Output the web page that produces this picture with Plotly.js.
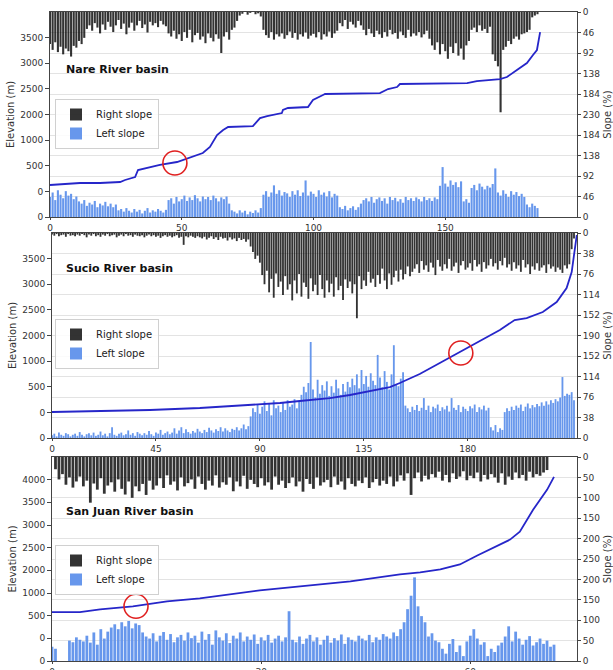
<!DOCTYPE html>
<html>
<head>
<meta charset="utf-8">
<script src="https://cdn.plot.ly/plotly-3.0.1.min.js"></script>
<style>html,body{margin:0;padding:0;background:#fff;}#chart{width:613px;height:670px;}</style>
</head>
<body>
<div id="chart"></div>
<script>
// ---------------- DATA ----------------
// Nare River basin (x step 1)
const nareRightSlope = [
72,85,68,90,78,95,82,88,100,76,
80,65,72,58,38,30,42,25,35,48,
28,40,22,33,45,30,18,38,26,50,
35,24,42,30,20,36,28,46,22,30,
25,34,20,28,32,48,55,42,60,50,
65,45,58,40,68,52,47,62,55,70,
48,58,66,50,60,92,55,45,62,40,
35,20,8,4,0,6,2,0,5,3,
10,40,52,58,45,62,50,55,48,60,
52,44,58,47,62,50,55,46,60,53,
49,57,45,62,50,55,44,58,48,42,
25,32,18,38,22,28,35,20,30,40,
52,38,48,56,42,50,58,45,55,40,
50,47,60,44,52,58,40,55,48,53,
45,57,50,42,60,75,85,68,95,72,
88,105,78,92,70,98,82,107,75,65,
40,35,45,30,42,38,47,33,95,110,
122,225,85,78,65,72,60,55,62,50,
48,45,40,12,8,5];
const nareLeftSlope = [
45,55,38,60,50,42,58,48,52,40,
46,35,30,38,25,32,28,36,22,30,
26,34,24,30,22,28,15,18,12,20,
14,10,18,12,16,8,14,20,10,15,
12,18,14,10,16,38,42,30,45,35,
40,48,36,44,38,49,42,35,46,40,
45,38,48,42,35,44,40,46,30,15,
12,8,15,10,14,6,12,9,15,10,
20,50,58,45,55,71,52,60,48,56,
53,45,58,50,60,47,55,82,48,57,
52,45,60,50,55,46,58,44,52,48,
22,18,25,15,20,24,16,22,30,38,
42,35,45,32,40,44,36,42,30,45,
38,43,35,40,32,45,38,42,36,44,
40,35,45,38,42,36,44,40,70,112,
75,68,82,72,78,67,80,35,40,32,
65,72,60,75,68,62,70,66,74,109,
55,48,60,52,45,58,50,56,47,52,
45,28,22,30,25,20];
const nareDist = [0,11.4,19,26.6,28.5,32.3,33.4,34.9,41.7,48.2,57,58,60.7,63.4,65.7,67.6,77,79.7,82.4,88,88.4,90.3,97.9,99.8,103.6,104.4,125.2,128.3,131.7,132.8,158.3,162,170.8,173.4,177.2,181,183.3,184.8,186];
const nareElev = [124,163,163,183,222,280,417,437,515,573,729,749,866,1100,1197,1256,1275,1431,1470,1529,1588,1627,1646,1783,1880,1900,1919,1997,2036,2095,2114,2153,2192,2231,2368,2505,2661,2758,3109];

// Sucio River basin (x step 1)
const sucioRightSlope = [
3,5,2,6,4,3,7,2,5,4,
6,3,5,2,4,8,3,5,2,6,
4,7,3,5,2,6,4,3,8,5,
3,6,2,5,4,7,3,5,6,4,
8,5,3,6,4,7,5,9,6,4,
7,5,8,6,4,9,7,22,6,8,
5,7,9,6,8,10,7,12,9,6,
11,8,13,7,10,9,14,8,12,10,
15,9,13,11,16,12,25,35,48,42,
55,78,95,70,110,85,120,75,100,90,
115,80,105,95,125,88,112,76,118,92,
100,122,84,108,96,115,78,104,120,88,
110,94,118,82,106,98,124,86,102,90,
112,95,158,80,104,88,98,72,92,85,
100,78,94,66,88,104,75,96,82,70,
90,68,86,76,62,80,72,66,58,74,
52,68,60,72,55,64,78,50,62,70,
58,66,48,70,62,55,74,60,52,68,
64,56,70,50,62,58,72,54,66,60,
48,62,56,68,52,60,46,64,58,70,
54,66,60,72,50,64,58,76,62,68,
56,70,64,60,74,58,66,62,72,64,
68,74,60,66,58,30,10];
const sucioLeftSlope = [
5,8,3,10,6,4,9,7,3,6,
8,4,11,6,3,7,9,5,10,4,
6,12,5,8,3,9,20,6,4,8,
10,5,7,14,6,9,4,11,8,5,
9,6,13,7,4,10,8,15,6,9,
12,7,10,18,8,14,20,9,16,11,
8,13,10,17,12,9,15,11,19,14,
10,16,13,20,12,18,14,11,17,15,
20,14,18,25,16,22,40,55,48,62,
45,58,68,50,64,42,70,55,60,48,
66,52,70,58,62,72,55,68,80,95,
85,102,178,90,75,108,82,98,88,105,
78,96,84,108,92,80,100,86,104,94,
110,98,118,92,126,100,115,95,120,106,
98,154,112,94,124,104,90,118,172,100,
96,110,122,60,55,48,58,52,61,50,
56,74,52,60,48,58,55,62,50,57,
53,60,49,74,56,52,61,48,58,54,
50,59,55,62,48,57,53,60,51,56,
20,14,24,11,18,15,48,55,50,58,
52,60,56,62,50,58,64,55,61,57,
63,59,66,60,68,62,70,65,72,68,
75,113,78,82,80,85,70];
const sucioDist = [0,20.8,42.4,64,85.7,98.7,107.3,120.3,129,137.6,146.3,150.6,159.2,167.9,176.5,185.2,193.9,200.3,205.5,212.5,218.5,222.8,225,226.3,227.2];
const sucioElev = [7,27,46,85,144,183,222,280,339,417,495,573,749,963,1178,1393,1607,1802,1841,1958,2153,2427,2739,3168,3461];

// San Juan River basin (x step 0.5)
const sanJuanRightSlope = [
0,30,55,42,68,50,75,60,48,72,
58,112,65,80,52,90,70,62,85,55,
78,92,60,100,72,84,66,93,58,80,
70,52,76,45,68,60,82,50,72,64,
55,78,48,66,80,58,70,45,75,62,
68,50,84,60,72,46,78,56,66,74,
52,70,62,80,48,68,58,76,64,50,
72,60,85,54,66,78,50,70,62,56,
74,48,68,60,80,52,66,72,58,64,
50,76,62,54,70,58,66,48,72,60,
45,58,40,93,52,38,60,46,55,42,
50,36,58,44,62,40,54,48,35,57,
46,52,38,60,44,55,42,50,63,40,
68,48,56,38,52,44,58,36,50,42,
46,38,32,0,0];
const sanJuanLeftSlope = [
35,30,0,0,0,50,46,58,52,48,
62,45,70,40,78,55,72,82,90,78,
95,85,98,80,92,88,70,60,55,68,
48,62,71,52,66,46,58,64,50,70,
56,62,45,72,52,66,40,75,58,50,
68,44,62,55,70,48,60,52,65,42,
58,50,64,45,55,62,48,58,122,52,
46,60,42,55,64,48,58,40,52,62,
45,56,50,65,42,58,52,48,62,55,
50,64,46,58,52,66,60,55,70,61,
78,95,127,160,205,134,110,95,60,68,
50,46,30,18,42,54,22,38,12,48,
62,78,55,40,46,12,30,22,38,45,
60,85,48,72,55,40,52,61,38,46,
55,42,50,35,40];
const sanJuanDist = [0,4,6.9,11.6,16.5,21.2,29.8,35.6,42.8,49.9,52.8,55.7,58.5,61,63.3,65.7,67.1,68.1,69,70,71,72];
const sanJuanElev = [576,576,641,707,817,883,1058,1146,1256,1410,1454,1519,1629,1827,2002,2178,2354,2617,2836,3056,3275,3561];

// Axis tick labels
const nareSlopeTicks = ['0','46','92','138','184','230','184','138','92','46','0'];
const sucioSlopeTicks = ['0','38','76','114','152','190','152','114','76','38','0'];
const sanJuanSlopeTicks = ['0','50','100','150','200','250','200','150','100','50','0'];
const elevTickText8 = ['0','0','500','1000','2000','2500','3000','3500'];
const elevTickText9 = ['0','0','500','1000','2000','2500','3000','3500','4000'];
const basinNames = ['Nare River basin','Sucio River basin','San Juan River basin'];
const highlight = [[47.4,554],[177,1158],[12.05,707]];

// ---------------- BUILD ----------------
const black = 'rgba(0,0,0,0.8)';
const blue = 'rgba(95,145,235,0.95)';
const lineBlue = '#2626c9';
const F = 'DejaVu Sans, Liberation Sans, sans-serif';

const panels = [
  {right: nareRightSlope, left: nareLeftSlope, step: 1, dist: nareDist, elev: nareElev, smax: 460, sticks: nareSlopeTicks,
   xr: [0,200], xt: [0,50,100,150], er: [-500,3500], etext: elevTickText8, xd: [50/613, 577/613], yd: [1-217/670, 1-12/670], bw: 0.8, legY: 1-99/670, titleY: 1-70/670},
  {right: sucioRightSlope, left: sucioLeftSlope, step: 1, dist: sucioDist, elev: sucioElev, smax: 380, sticks: sucioSlopeTicks,
   xr: [0,227.3], xt: [0,45,90,135,180], er: [-500,3500], etext: elevTickText8, xd: [52/613, 577/613], yd: [1-438/670, 1-233/670], bw: 0.8, legY: 1-319/670, titleY: 1-268/670},
  {right: sanJuanRightSlope, left: sanJuanLeftSlope, step: 0.5, dist: sanJuanDist, elev: sanJuanElev, smax: 500, sticks: sanJuanSlopeTicks,
   xr: [0,75.3], xt: [0,30,60], er: [-500,4000], etext: elevTickText9, xd: [52/613, 577/613], yd: [1-661/670, 1-457/670], bw: 0.4, legY: 1-545/670, titleY: 1-511/670}
];

const traces = [];
const layout = {
  width: 613, height: 670,
  margin: {l:0, r:0, t:0, b:0},
  paper_bgcolor: '#fff', plot_bgcolor: '#fff',
  barmode: 'overlay',
  showlegend: true,
  font: {family: F, size: 10, color: '#333'},
  annotations: [], shapes: []
};

panels.forEach((p, k) => {
  const n = k + 1;
  const xk = n === 1 ? 'x' : 'x' + n;
  const ySlope = n === 1 ? 'y' : 'y' + (2*n - 1);
  const yElev = 'y' + (2*n);
  const legName = n === 1 ? 'legend' : 'legend' + n;
  const xs = p.right.map((_, i) => i * p.step);

  traces.push({
    type: 'bar', name: 'Right slope', x: xs, y: p.right.map(v => -v), base: p.smax,
    width: p.bw, marker: {color: black, line: {width: 0}}, xaxis: xk, yaxis: ySlope, legend: legName, hoverinfo: 'skip'
  });
  traces.push({
    type: 'bar', name: 'Left slope', x: xs, y: p.left, base: 0,
    width: p.bw, marker: {color: blue, line: {width: 0}}, xaxis: xk, yaxis: ySlope, legend: legName, hoverinfo: 'skip'
  });
  traces.push({
    type: 'scatter', mode: 'lines', x: p.dist, y: p.elev, line: {color: lineBlue, width: 1.8},
    xaxis: xk, yaxis: yElev, showlegend: false, hoverinfo: 'skip'
  });

  const xKey = n === 1 ? 'xaxis' : 'xaxis' + n;
  const ySKey = n === 1 ? 'yaxis' : 'yaxis' + (2*n - 1);
  const yEKey = 'yaxis' + (2*n);
  const sVals = p.sticks.map((_, i) => i * p.smax / 10);
  const eVals = p.etext.map((_, i) => -500 + i * 500);

  layout[xKey] = {
    domain: p.xd, anchor: ySlope, range: p.xr, tickvals: p.xt, ticktext: p.xt.map(String),
    showgrid: false, zeroline: false, showline: true, mirror: true, linecolor: '#444', linewidth: 1,
    ticks: 'outside', ticklen: 2, tickcolor: '#444', tickfont: {size: 9, color: '#333'}
  };
  layout[ySKey] = {
    domain: p.yd, anchor: xk, side: 'right', range: [0, p.smax], tickvals: sVals, ticktext: p.sticks,
    showgrid: true, gridcolor: '#e3e3e3', gridwidth: 1, zeroline: false, showline: true, linecolor: '#444',
    ticks: 'outside', ticklen: 3, tickcolor: '#444', tickfont: {size: 9, color: '#333'},
    title: {text: 'Slope (%)', font: {size: 10, color: '#333'}, standoff: 4}
  };
  layout[yEKey] = {
    overlaying: ySlope, anchor: xk, side: 'left', range: p.er, tickvals: eVals, ticktext: p.etext,
    showgrid: false, zeroline: false, showline: true, linecolor: '#444',
    ticks: 'outside', ticklen: 4, tickcolor: '#444', tickfont: {size: 9, color: '#333'},
    title: {text: 'Elevation (m)', font: {size: 10, color: '#333'}, standoff: 3}
  };
  layout[legName] = {
    x: 55/613, y: p.legY, xanchor: 'left', yanchor: 'top', bgcolor: 'rgba(255,255,255,0.85)',
    bordercolor: '#d0d0d0', borderwidth: 1, font: {size: 10, color: '#222'}, traceorder: 'normal',
    itemwidth: 30, tracegroupgap: 0
  };
  layout.annotations.push({
    xref: 'paper', yref: 'paper', x: 64/613, y: p.titleY, xanchor: 'left', yanchor: 'middle',
    text: '<b>' + basinNames[k] + '</b>', showarrow: false, font: {size: 11, color: '#111'}
  });
  layout.shapes.push({
    type: 'circle', xref: xk, yref: yElev, xsizemode: 'pixel', ysizemode: 'pixel',
    xanchor: highlight[k][0], yanchor: highlight[k][1], x0: -12, x1: 12, y0: -12, y1: 12,
    line: {color: '#e02020', width: 1.6}
  });
});

Plotly.newPlot('chart', traces, layout, {displayModeBar: false, staticPlot: true});
</script>
</body>
</html>
